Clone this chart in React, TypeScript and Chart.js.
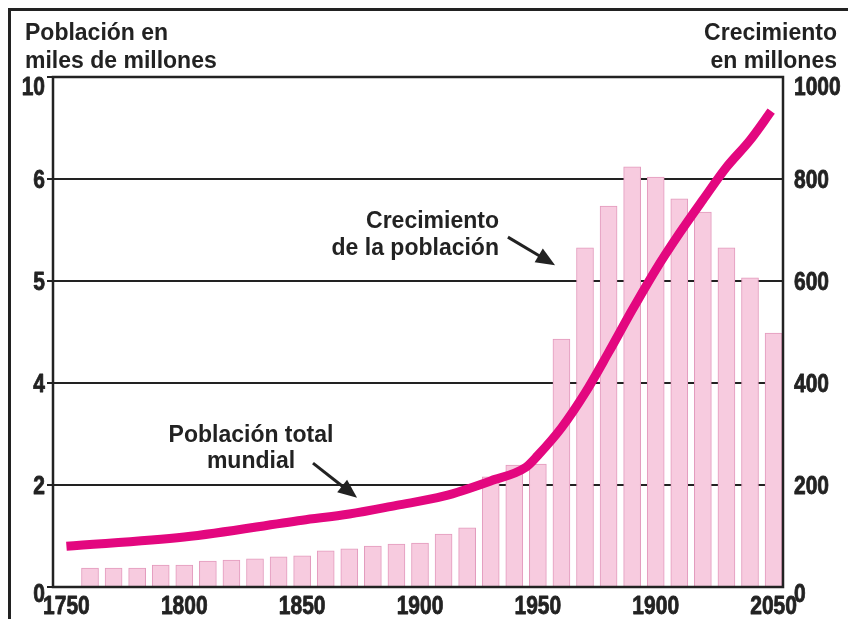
import React, { useEffect, useRef } from "react";
import { Chart, registerables } from "chart.js";

Chart.register(...registerables);

// ---- data ----
const barYears = [1760, 1770, 1780, 1790, 1800, 1810, 1820, 1830, 1840, 1850, 1860, 1870, 1880, 1890, 1900, 1910, 1920, 1930, 1940, 1950, 1960, 1970, 1980, 1990, 2000, 2010, 2020, 2030, 2040, 2050];
const growthMillions = [37, 37, 37, 43, 43, 51, 53, 55, 59, 61, 71, 75, 80, 84, 86, 104, 116, 216, 239, 241, 486, 665, 747, 824, 804, 761, 735, 665, 606, 498];

const popYears = [1750, 1800, 1850, 1870, 1890, 1910, 1930, 1945, 1950, 1960, 1970, 1980, 1990, 2000, 2010, 2020, 2030, 2040, 2049];
const popBillions = [0.8, 0.98, 1.31, 1.43, 1.6, 1.78, 2.08, 2.35, 2.58, 3.12, 3.8, 4.6, 5.43, 6.22, 6.93, 7.59, 8.23, 8.76, 9.33];

const xTickYears = [1750, 1800, 1850, 1900, 1950, 2000, 2050];
const xTickLabels = ["1750", "1800", "1850", "1900", "1950", "1900", "2050"];
const leftTickValues = [0, 2, 4, 6, 8, 10];
const leftTickLabels = ["0", "2", "4", "5", "6", "10"];
const rightTickValues = [0, 200, 400, 600, 800, 1000];
const rightTickLabels = ["0", "200", "400", "600", "800", "1000"];

const titleLeft = ["Población en", "miles de millones"];
const titleRight = ["Crecimiento", "en millones"];
const noteGrowth = ["Crecimiento", "de la población"];
const notePop = ["Población total", "mundial"];

// ---- styles ----
const INK = "#222222";
const SANS = '"Liberation Sans", Arial, sans-serif';
const MAGENTA = "#e3077f";
const BAR_FILL = "#f7cbdf";
const BAR_EDGE = "#e39abd";
const TICK_FONT = `bold 25px ${SANS}`;
const SQUEEZE = 0.84;

// annotation anchors in data coordinates (x: year, y: right axis)
const growthNote = { x: 1933.5, y: 704, lineGap: 27, arrow: [1937.3, 686, 1957.3, 631] };
const popNote = { x: 1828.3, y: 284, lineGap: 26, arrow: [1854.6, 243, 1873.3, 175] };

function drawArrow(ctx: CanvasRenderingContext2D, x1: number, y1: number, x2: number, y2: number) {
  const ang = Math.atan2(y2 - y1, x2 - x1);
  const head = 19;
  const half = 8;
  const bx = x2 - Math.cos(ang) * head;
  const by = y2 - Math.sin(ang) * head;
  ctx.beginPath();
  ctx.moveTo(x1, y1);
  ctx.lineTo(bx + Math.cos(ang) * 2, by + Math.sin(ang) * 2);
  ctx.lineWidth = 3;
  ctx.strokeStyle = INK;
  ctx.stroke();
  ctx.beginPath();
  ctx.moveTo(x2, y2);
  ctx.lineTo(bx + Math.cos(ang + Math.PI / 2) * half, by + Math.sin(ang + Math.PI / 2) * half);
  ctx.lineTo(bx + Math.cos(ang - Math.PI / 2) * half, by + Math.sin(ang - Math.PI / 2) * half);
  ctx.closePath();
  ctx.fillStyle = INK;
  ctx.fill();
}

function squeezedText(ctx: CanvasRenderingContext2D, text: string, x: number, y: number, align: CanvasTextAlign) {
  ctx.save();
  ctx.translate(x, y);
  ctx.scale(SQUEEZE, 1);
  ctx.textAlign = align;
  ctx.textBaseline = "alphabetic";
  ctx.lineWidth = 0.8;
  ctx.strokeStyle = INK;
  ctx.lineJoin = "round";
  ctx.strokeText(text, 0, 0);
  ctx.fillText(text, 0, 0);
  ctx.restore();
}

// baseline offset so that middle labels sit centred on their line,
// the top one hangs below the frame and the bottom one sits a bit low
function labelBaseline(y: number, i: number, n: number) {
  if (i === n - 1) return y + 18;
  if (i === 0) return y + 15;
  return y + 9;
}

const overlay = {
  id: "overlay",
  afterDraw(chart: any) {
    const ctx: CanvasRenderingContext2D = chart.ctx;
    const { left, right, top, bottom } = chart.chartArea;
    const xs = chart.scales.x;
    const ys = chart.scales.yR;
    const yl = chart.scales.yL;
    ctx.save();
    // plot frame
    ctx.strokeStyle = INK;
    ctx.lineWidth = 2.5;
    ctx.strokeRect(left, top, right - left, bottom - top);
    // outer frame (top + left)
    ctx.lineWidth = 3;
    ctx.beginPath();
    ctx.moveTo(9.5, chart.height);
    ctx.lineTo(9.5, 9.5);
    ctx.lineTo(chart.width, 9.5);
    ctx.stroke();

    // tick labels
    ctx.font = TICK_FONT;
    ctx.fillStyle = INK;
    xTickYears.forEach((v, i) => {
      squeezedText(ctx, xTickLabels[i], xs.getPixelForValue(v), bottom + 27, "center");
    });
    leftTickValues.forEach((v, i) => {
      squeezedText(ctx, leftTickLabels[i], left - 8, labelBaseline(yl.getPixelForValue(v), i, leftTickValues.length), "right");
    });
    rightTickValues.forEach((v, i) => {
      squeezedText(ctx, rightTickLabels[i], right + 11, labelBaseline(ys.getPixelForValue(v), i, rightTickValues.length), "left");
    });

    // titles
    ctx.font = `bold 23px ${SANS}`;
    ctx.fillStyle = INK;
    ctx.textBaseline = "alphabetic";
    ctx.textAlign = "left";
    ctx.fillText(titleLeft[0], 25, 40);
    ctx.fillText(titleLeft[1], 25, 68);
    ctx.textAlign = "right";
    ctx.fillText(titleRight[0], 837, 40);
    ctx.fillText(titleRight[1], 837, 68);

    // growth note (right aligned)
    const gx = xs.getPixelForValue(growthNote.x);
    const gy = ys.getPixelForValue(growthNote.y);
    ctx.textAlign = "right";
    ctx.fillText(noteGrowth[0], gx, gy);
    ctx.fillText(noteGrowth[1], gx, gy + growthNote.lineGap);
    const ga = growthNote.arrow;
    drawArrow(ctx, xs.getPixelForValue(ga[0]), ys.getPixelForValue(ga[1]), xs.getPixelForValue(ga[2]), ys.getPixelForValue(ga[3]));

    // population note (centred)
    const px = xs.getPixelForValue(popNote.x);
    const py = ys.getPixelForValue(popNote.y);
    ctx.textAlign = "center";
    ctx.fillStyle = INK;
    ctx.fillText(notePop[0], px, py);
    ctx.fillText(notePop[1], px, py + popNote.lineGap);
    const pa = popNote.arrow;
    drawArrow(ctx, xs.getPixelForValue(pa[0]), ys.getPixelForValue(pa[1]), xs.getPixelForValue(pa[2]), ys.getPixelForValue(pa[3]));
    ctx.restore();
  },
};

export default function App() {
  const ref = useRef<HTMLCanvasElement | null>(null);
  useEffect(() => {
    document.body.style.margin = "0";
    const canvas = ref.current;
    if (!canvas) return;
    const chart = new Chart(canvas, {
      type: "bar",
      data: {
        datasets: [
          {
            type: "line" as const,
            label: "Población total mundial",
            data: popYears.map((x, i) => ({ x, y: popBillions[i] })),
            xAxisID: "x",
            yAxisID: "yL",
            borderColor: MAGENTA,
            borderWidth: 9,
            borderCapStyle: "butt",
            pointRadius: 0,
            cubicInterpolationMode: "monotone",
            fill: false,
            order: 0,
          } as any,
          {
            type: "bar" as const,
            label: "Crecimiento de la población",
            data: barYears.map((x, i) => ({ x, y: growthMillions[i] })),
            xAxisID: "x",
            yAxisID: "yR",
            backgroundColor: BAR_FILL,
            borderColor: BAR_EDGE,
            borderWidth: 1,
            barThickness: 17,
            order: 1,
          } as any,
        ],
      },
      plugins: [overlay],
      options: {
        animation: false,
        responsive: false,
        maintainAspectRatio: false,
        layout: { padding: { top: 77, left: 0, right: 0, bottom: 0 } },
        plugins: { legend: { display: false }, tooltip: { enabled: false }, title: { display: false } },
        scales: {
          x: {
            type: "linear",
            position: "bottom",
            min: 1744.3,
            max: 2054,
            offset: false,
            grid: { display: false, drawTicks: false, offset: false },
            border: { display: false },
            afterBuildTicks: (s: any) => {
              s.ticks = xTickYears.map((v) => ({ value: v }));
            },
            afterFit: (s: any) => {
              s.height = 32;
            },
            ticks: { display: false },
          },
          yL: {
            type: "linear",
            position: "left",
            min: 0,
            max: 10,
            grid: { display: true, drawOnChartArea: false, drawTicks: true, tickLength: 6, color: INK, lineWidth: 2 },
            border: { display: false },
            afterBuildTicks: (s: any) => {
              s.ticks = leftTickValues.map((v) => ({ value: v }));
            },
            afterFit: (s: any) => {
              s.width = 53;
            },
            ticks: { display: false },
          },
          yR: {
            type: "linear",
            position: "right",
            min: 0,
            max: 1000,
            grid: { display: true, drawOnChartArea: true, drawTicks: false, color: INK, lineWidth: 2 },
            border: { display: false },
            afterBuildTicks: (s: any) => {
              s.ticks = rightTickValues.map((v) => ({ value: v }));
            },
            afterFit: (s: any) => {
              s.width = 65;
            },
            ticks: { display: false },
          },
        },
      } as any,
    });
    return () => chart.destroy();
  }, []);
  return (
    <div style={{ width: 848, height: 619, background: "#fff" }}>
      <canvas ref={ref} width={848} height={619} style={{ display: "block" }} />
    </div>
  );
}
